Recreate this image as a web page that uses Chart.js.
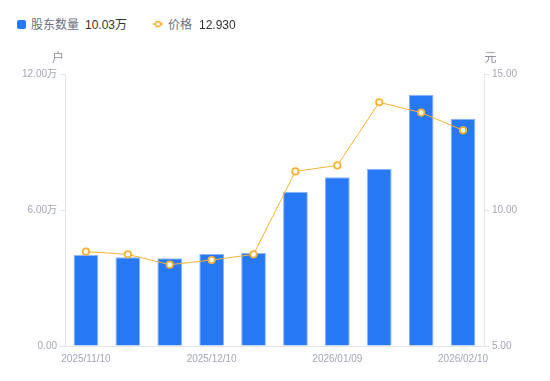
<!DOCTYPE html>
<html>
<head>
<meta charset="utf-8">
<script src="https://cdn.jsdelivr.net/npm/chart.js@4.4.1/dist/chart.umd.min.js"></script>
<style>
  html, body { margin: 0; padding: 0; background: #fff; }
  body { width: 550px; height: 381px; position: relative; overflow: hidden;
         font-family: "Liberation Sans", "Noto Sans CJK SC", sans-serif; }
  #c { position: absolute; left: 0; top: 0; }
  .lg { position: absolute; font-size: 12px; line-height: 14px; white-space: nowrap; }
  .lbl { color: #6b6f80; }
  .val { color: #333333; }
  #sq { position: absolute; left: 17px; top: 20px; width: 9px; height: 9px; background: #2778F5; border-radius: 2px; }
</style>
</head>
<body>
<div id="sq"></div>
<span class="lg lbl" id="l1" style="left:31px; top:18px;"></span>
<span class="lg val" id="v1" style="left:85px; top:18px;"></span>
<canvas id="ic" width="12" height="10" style="position:absolute; left:152px; top:19px;"></canvas>
<span class="lg lbl" id="l2" style="left:168px; top:18px;"></span>
<span class="lg val" id="v2" style="left:199px; top:18px;"></span>
<canvas id="c" width="550" height="381"></canvas>
<script>
const categories = ['2025/11/10','2025/11/20','2025/11/30','2025/12/10','2025/12/20','2025/12/31','2026/01/09','2026/01/20','2026/01/31','2026/02/10'];
const holders = [40100, 39100, 38700, 40600, 41000, 68100, 74400, 78200, 110900, 100300];
const prices = [8.47, 8.37, 7.99, 8.16, 8.37, 11.42, 11.64, 13.96, 13.58, 12.93];
const shownTickIdx = [0, 3, 6, 9];
const leftTicks = [0, 60000, 120000];
const rightTicks = [5, 10, 15];
const seriesNames = ['股东数量', '价格'];
const axisTitles = ['户', '元'];

const BLUE = '#2778F5';
const ORANGE = '#F9B233';
const TICK = '#a3a6b7';
const AXIS = '#e4e5ea';

document.getElementById('l1').textContent = seriesNames[0];
document.getElementById('v1').textContent = (holders[holders.length-1]/10000).toFixed(2) + '万';
document.getElementById('l2').textContent = seriesNames[1];
document.getElementById('v2').textContent = prices[prices.length-1].toFixed(3);

(function(){
  const ctx = document.getElementById('ic').getContext('2d');
  ctx.strokeStyle = ORANGE; ctx.lineWidth = 1.5;
  ctx.beginPath(); ctx.moveTo(1,5); ctx.lineTo(11,5); ctx.stroke();
  ctx.beginPath(); ctx.arc(6,5,2.6,0,Math.PI*2); ctx.fillStyle='#fff'; ctx.fill(); ctx.stroke();
})();

const titlePlugin = {
  id: 'axisTitles',
  afterDraw(chart) {
    const ctx = chart.ctx, a = chart.chartArea;
    ctx.save();
    ctx.font = '12px "Liberation Sans", "Noto Sans CJK SC", sans-serif';
    ctx.fillStyle = '#8b8fa0';
    ctx.textAlign = 'center';
    ctx.textBaseline = 'middle';
    ctx.fillText(axisTitles[0], a.left - 7, a.top - 15);
    ctx.fillText(axisTitles[1], a.right + 6.5, a.top - 15);
    ctx.restore();
  }
};

new Chart(document.getElementById('c'), {
  type: 'bar',
  data: {
    labels: categories,
    datasets: [
      {
        type: 'line', label: seriesNames[1], data: prices, yAxisID: 'y1', order: 0,
        borderColor: ORANGE, borderWidth: 1, pointRadius: 3.2, pointBorderWidth: 1.8,
        pointBackgroundColor: '#fff', pointBorderColor: ORANGE, tension: 0, fill: false
      },
      {
        type: 'bar', label: seriesNames[0], data: holders, yAxisID: 'y', order: 1,
        backgroundColor: BLUE, borderColor: '#8db5f8', borderWidth: {top: 1, left: 1, right: 1, bottom: 0},
        barPercentage: 0.59, categoryPercentage: 1
      }
    ]
  },
  options: {
    responsive: false,
    animation: false,
    layout: { padding: { top: 74, left: 0, right: 0, bottom: 0 } },
    plugins: { legend: { display: false }, tooltip: { enabled: false } },
    scales: {
      x: {
        offset: true,
        grid: { drawOnChartArea: false, drawTicks: false, color: AXIS },
        border: { display: true, color: AXIS },
        ticks: {
          autoSkip: false, maxRotation: 0, minRotation: 0, padding: 7,
          color: TICK, font: { size: 10, family: '"Liberation Sans", sans-serif' },
          callback: (v, i) => shownTickIdx.includes(i) ? categories[i] : ''
        },
        afterFit(s) { s.height = 35; }
      },
      y: {
        position: 'left', min: 0, max: 120000,
        afterBuildTicks(s) { s.ticks = leftTicks.map(v => ({ value: v })); },
        grid: { drawOnChartArea: false, drawTicks: true, tickLength: 5, color: AXIS },
        border: { display: true, color: AXIS },
        ticks: {
          padding: 3, color: TICK, font: { size: 10, family: '"Liberation Sans", "Noto Sans CJK SC", sans-serif' },
          callback: v => v === 0 ? '0.00' : (v/10000).toFixed(2) + '万'
        },
        afterFit(s) { s.width = 65; }
      },
      y1: {
        position: 'right', min: 5, max: 15,
        afterBuildTicks(s) { s.ticks = rightTicks.map(v => ({ value: v })); },
        grid: { drawOnChartArea: false, drawTicks: true, tickLength: 5, color: AXIS },
        border: { display: true, color: AXIS },
        ticks: {
          padding: 3, color: TICK, font: { size: 10, family: '"Liberation Sans", sans-serif' },
          callback: v => v.toFixed(2)
        },
        afterFit(s) { s.width = 66; }
      }
    }
  },
  plugins: [titlePlugin]
});
</script>
</body>
</html>
